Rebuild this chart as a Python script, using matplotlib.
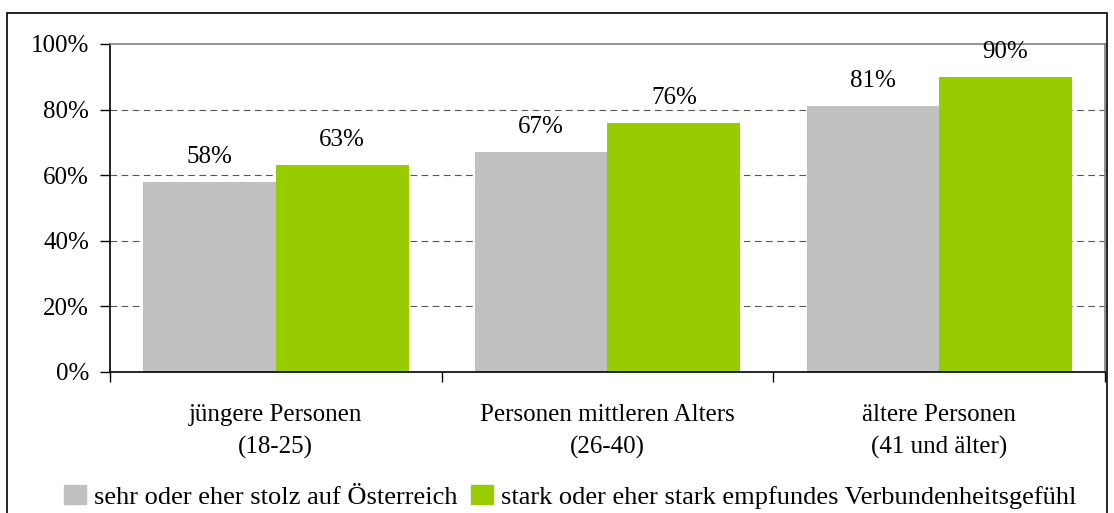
import matplotlib.pyplot as plt
from matplotlib.patches import Rectangle, Patch

categories = ["jüngere Personen\n(18-25)", "Personen mittleren Alters\n(26-40)", "ältere Personen\n(41 und älter)"]
stolz = [58, 67, 81]
verbunden = [63, 76, 90]
series_labels = ["sehr oder eher stolz auf Österreich",
                 "stark oder eher stark empfundes Verbundenheitsgefühl"]

plt.rcParams["font.family"] = ["Liberation Serif", "DejaVu Serif"]
plt.rcParams["font.size"] = 18

fig = plt.figure(figsize=(11.14, 5.13), dpi=100)
ax = fig.add_axes([110 / 1114, 1 - 372 / 513, 995 / 1114, 328 / 513])

# outer frame around the whole chart
fig.patches.append(Rectangle((7 / 1114, -0.05), 1100 / 1114, 1 - 13 / 513 + 0.05,
                             transform=fig.transFigure, fill=False,
                             edgecolor="black", linewidth=1.2))

x = list(range(len(categories)))
w = 0.4
b1 = ax.bar([i - w / 2 for i in x], stolz, w, color="#C0C0C0", zorder=2)
b2 = ax.bar([i + w / 2 for i in x], verbunden, w, color="#99CC00", zorder=2)

for bars, vals in ((b1, stolz), (b2, verbunden)):
    for r, v in zip(bars, vals):
        ax.annotate(f"{v}%", (r.get_x() + r.get_width() / 2, v),
                    xytext=(0, 10), textcoords="offset points",
                    ha="center", va="bottom", zorder=5)

ax.set_xlim(-0.5, 2.5)
ax.set_ylim(0, 100)
ax.set_yticks([0, 20, 40, 60, 80, 100])
ax.set_yticklabels([f"{t}%" for t in [0, 20, 40, 60, 80, 100]])
ax.tick_params(axis="y", direction="out", length=7, width=1, pad=8)

ax.set_xticks([-0.5, 0.5, 1.5, 2.5])
ax.set_xticklabels([])
ax.tick_params(axis="x", which="major", direction="out", length=7, width=1)
ax.set_xticks(x, minor=True)
ax.set_xticklabels(categories, minor=True, linespacing=1.55)
ax.tick_params(axis="x", which="minor", length=0, pad=23)

for y in [20, 40, 60, 80]:
    ax.axhline(y, color="#555555", linestyle=(0, (6, 4)), linewidth=0.8, zorder=1)

ax.spines["left"].set_color("black")
ax.spines["bottom"].set_color("black")
ax.spines["left"].set_linewidth(1.2)
ax.spines["bottom"].set_linewidth(1.2)
ax.spines["top"].set_color("#808080")
ax.spines["right"].set_color("#808080")
ax.spines["top"].set_linewidth(1.2)
ax.spines["right"].set_linewidth(1.2)

handles = [Patch(color="#C0C0C0"), Patch(color="#99CC00")]
fig.legend(handles, series_labels, loc="center", bbox_to_anchor=(570 / 1114, 1 - 497 / 513),
           ncol=2, frameon=False, handlelength=0.85, handleheight=0.75,
           handletextpad=0.3, columnspacing=0.5, fontsize=19)

fig.savefig("out.png", dpi=100)
